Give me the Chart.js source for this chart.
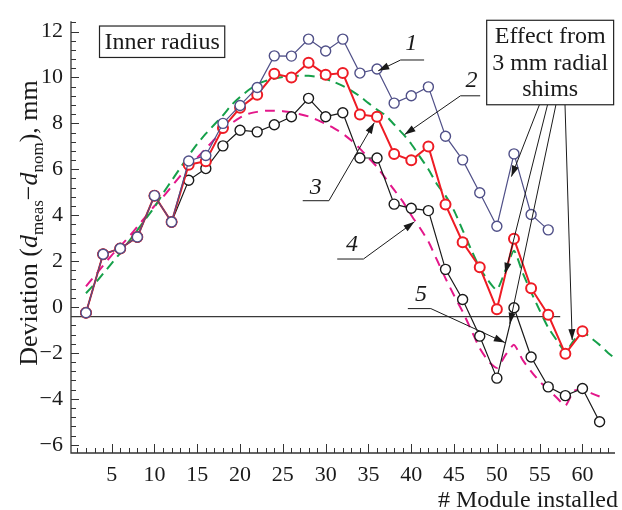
<!DOCTYPE html>
<html>
<head>
<meta charset="utf-8">
<script src="https://cdn.jsdelivr.net/npm/chart.js@4.4.1/dist/chart.umd.min.js"></script>
<style>
  html, body { margin: 0; padding: 0; background: #fff; }
  #wrap { width: 622px; height: 510px; }
</style>
</head>
<body>
<div id="wrap"><canvas id="deviationChart" width="622" height="510"></canvas></div>
<script>
// measured deviations, one point every second module
const modules = [2, 4, 6, 8, 10, 12, 14, 16, 18, 20, 22, 24, 26, 28, 30, 32,
                 34, 36, 38, 40, 42, 44, 46, 48, 50, 52, 54, 56, 58, 60, 62];
const curve1 = [-0.25, 2.3, 2.55, 3.05, 4.85, 3.7, 6.36, 6.6, 8.0, 8.78, 9.56, 10.94, 10.93, 11.67, 11.15, 11.67,
                10.19, 10.37, 8.88, 9.2, 9.59, 7.44, 6.41, 4.98, 3.52, 6.67, 4.03, 3.36];
const curve3 = [-0.25, 2.3, 2.55, 3.05, 4.85, 3.7, 6.2, 6.35, 7.8, 8.68, 9.25, 10.16, 10.0, 10.64, 10.12, 10.19,
                8.39, 8.29, 6.67, 6.39, 6.99, 4.46, 2.82, 1.73, -0.1, 2.97, 0.82, -0.34, -2.04, -1.06];
const curve5 = [-0.25, 2.3, 2.55, 3.05, 4.85, 3.7, 5.52, 6.03, 7.02, 7.7, 7.63, 7.94, 8.29, 9.09, 8.29, 8.46,
                6.49, 6.49, 4.48, 4.3, 4.2, 1.64, 0.33, -1.27, -3.1, -0.03, -2.18, -3.48, -3.86, -3.55, -5.0];

// model curves, one value per module
const modelModules = [];
for (let m = 2; m <= 64; m++) modelModules.push(m);
const curve2 = [0.6, 1.0, 1.45, 1.9, 2.35, 2.85, 3.35, 3.85, 4.35, 4.95, 5.5, 6.05, 6.6, 7.1, 7.55, 7.95,
                8.35, 8.8, 9.15, 9.45, 9.7, 9.85, 9.95, 10.02, 10.06, 10.08, 10.07, 10.02, 9.93, 9.8, 9.63, 9.43,
                9.18, 8.88, 8.6, 8.35, 7.95, 7.55, 7.1, 6.55, 6.0, 5.35, 4.85, 4.2, 3.35, 2.5, 1.7, 1.15,
                0.75, 1.6, 2.45, 1.5, 0.65, -0.15, -0.9, -1.45, -1.95, -1.45, -1.1, -1.35, -1.65, -2.0, -2.3];
const curve4 = [0.9, 1.35, 1.8, 2.25, 2.65, 3.05, 3.5, 3.95, 4.4, 4.8, 5.25, 5.7, 6.1, 6.5, 6.9, 7.3,
                7.65, 8.0, 8.25, 8.42, 8.5, 8.55, 8.55, 8.53, 8.48, 8.4, 8.3, 8.15, 7.98, 7.78, 7.55, 7.25,
                6.9, 6.5, 6.1, 5.6, 5.1, 4.6, 4.0, 3.45, 2.85, 2.05, 1.25, 0.5, -0.2, -1.0, -1.8, -2.35,
                -2.65, -2.1, -1.65, -2.3, -2.8, -3.25, -3.6, -3.95, -4.3, -3.65, -3.6, -3.75, -3.9];

// reference level
const refModules = [0.25, 57.4];
const refLevel = -0.42;

const xTickLabels = [5, 10, 15, 20, 25, 30, 35, 40, 45, 50, 55, 60];
const yTickLabels = [-6, -4, -2, 0, 2, 4, 6, 8, 10, 12];

const SERIF = '"Liberation Serif", "Times New Roman", serif';
const INK = '#1a1a1a';

const pairs = (xs, ys) => ys.map((y, i) => ({ x: xs[i], y: y }));

// callouts, positioned in data units
const curveCallouts = [
    { text: '1', at: [40.0, 11.45], path: [[41.5, 10.76], [38.76, 10.76], [36.14, 10.29]] },
    { text: '2', at: [47.05, 9.84], path: [[48.05, 9.2], [45.75, 9.2], [39.22, 7.51]] },
    { text: '3', at: [28.85, 5.19], path: [[27.32, 4.63], [30.38, 4.63], [35.68, 8.03]] },
    { text: '4', at: [33.08, 2.72], path: [[31.35, 2.09], [34.41, 2.09], [40.37, 3.71]] },
    { text: '5', at: [41.14, 0.54], path: [[39.6, -0.07], [42.29, -0.07], [50.93, -1.55]] }
];
const shimArrows = [
    [[54.97, 8.81], [51.70, 5.68]],
    [[55.92, 8.81], [50.97, 1.45]],
    [[56.9, 8.81], [51.51, -0.73]],
    [[57.96, 8.81], [58.8, -1.44]]
];
const innerBox = { from: [3.58, 12.24], to: [18.21, 10.87], lines: ['Inner radius'] };
const shimBox = { from: [48.81, 12.49], to: [63.64, 8.81], lines: ['Effect from', '3 mm radial', 'shims'] };

function arrowHead(ctx, x0, y0, x1, y1) {
    const a = Math.atan2(y1 - y0, x1 - x0);
    const len = 11, half = 3.5;
    ctx.beginPath();
    ctx.moveTo(x1, y1);
    ctx.lineTo(x1 - len * Math.cos(a) + half * Math.sin(a), y1 - len * Math.sin(a) - half * Math.cos(a));
    ctx.lineTo(x1 - len * Math.cos(a) - half * Math.sin(a), y1 - len * Math.sin(a) + half * Math.cos(a));
    ctx.closePath();
    ctx.fill();
}

const framePlugin = {
    id: 'frame',
    beforeDatasetsDraw(chart) {
        const { ctx, chartArea: a, scales: { x, y } } = chart;
        ctx.save();
        ctx.strokeStyle = '#333';
        ctx.lineWidth = 1.3;
        ctx.beginPath();
        ctx.moveTo(a.left, a.top);
        ctx.lineTo(a.left, a.bottom);
        ctx.lineTo(a.right, a.bottom);
        ctx.stroke();
        ctx.lineWidth = 1;
        ctx.beginPath();
        // y ticks every 0.4, long ones at labelled values
        for (let k = -15; k <= 31; k++) {
            const v = k * 0.4;
            if (v < y.min || v > y.max) continue;
            const py = Math.round(y.getPixelForValue(v)) + 0.5;
            const len = k % 5 === 0 ? 8 : 5;
            ctx.moveTo(a.left, py);
            ctx.lineTo(a.left + len, py);
        }
        // x ticks every module, long ones every fifth
        for (let m = 1; m <= Math.floor(x.max); m++) {
            const px = Math.round(x.getPixelForValue(m)) + 0.5;
            const len = m % 5 === 0 ? 9 : 5;
            ctx.moveTo(px, a.bottom);
            ctx.lineTo(px, a.bottom - len);
        }
        ctx.stroke();
        ctx.restore();
    },
    afterDatasetsDraw(chart) {
        const { ctx, scales: { x, y } } = chart;
        const P = (p) => [x.getPixelForValue(p[0]), y.getPixelForValue(p[1])];
        ctx.save();
        ctx.strokeStyle = INK;
        ctx.fillStyle = INK;
        ctx.lineWidth = 1;

        curveCallouts.forEach(c => {
            const pts = c.path.map(P);
            ctx.beginPath();
            ctx.moveTo(pts[0][0], pts[0][1]);
            pts.slice(1).forEach(p => ctx.lineTo(p[0], p[1]));
            ctx.stroke();
            const n = pts.length;
            arrowHead(ctx, pts[n - 2][0], pts[n - 2][1], pts[n - 1][0], pts[n - 1][1]);
            const t = P(c.at);
            ctx.font = 'italic 24px ' + SERIF;
            ctx.textAlign = 'center';
            ctx.textBaseline = 'middle';
            ctx.fillText(c.text, t[0], t[1]);
        });

        shimArrows.forEach(s => {
            const p0 = P(s[0]), p1 = P(s[1]);
            ctx.beginPath();
            ctx.moveTo(p0[0], p0[1]);
            ctx.lineTo(p1[0], p1[1]);
            ctx.stroke();
            arrowHead(ctx, p0[0], p0[1], p1[0], p1[1]);
        });

        [innerBox, shimBox].forEach(b => {
            const p0 = P(b.from), p1 = P(b.to);
            ctx.fillStyle = '#fff';
            ctx.fillRect(p0[0], p0[1], p1[0] - p0[0], p1[1] - p0[1]);
            ctx.strokeStyle = '#222';
            ctx.lineWidth = 1.2;
            ctx.strokeRect(p0[0], p0[1], p1[0] - p0[0], p1[1] - p0[1]);
            ctx.fillStyle = INK;
            ctx.font = '24px ' + SERIF;
            ctx.textAlign = 'center';
            ctx.textBaseline = 'middle';
            const cx = (p0[0] + p1[0]) / 2, cy = (p0[1] + p1[1]) / 2;
            const lh = 26.5;
            b.lines.forEach((ln, i) => {
                ctx.fillText(ln, cx, cy + (i - (b.lines.length - 1) / 2) * lh + 1);
            });
        });
        ctx.restore();
    },
    afterDraw(chart) {
        const { ctx, chartArea: a } = chart;
        ctx.save();
        ctx.fillStyle = INK;
        // x title
        ctx.font = '24px ' + SERIF;
        ctx.textAlign = 'right';
        ctx.textBaseline = 'alphabetic';
        ctx.fillText('# Module installed', 618, 507);

        // y title with subscripts
        const big = '26px ' + SERIF, ital = 'italic 26px ' + SERIF, sub = '17px ' + SERIF;
        const parts = [
            { t: 'Deviation (', f: big, dy: 0 },
            { t: 'd', f: ital, dy: 0 },
            { t: 'meas', f: sub, dy: 6 },
            { t: '\u2212', f: big, dy: 0 },
            { t: 'd', f: ital, dy: 0 },
            { t: 'nom', f: sub, dy: 6 },
            { t: '), mm', f: big, dy: 0 }
        ];
        ctx.translate(a.left - 34, 223);
        ctx.rotate(-Math.PI / 2);
        let w = 0;
        parts.forEach(p => { ctx.font = p.f; p.w = ctx.measureText(p.t).width; w += p.w; });
        let cx = -w / 2;
        ctx.textAlign = 'left';
        parts.forEach(p => { ctx.font = p.f; ctx.fillText(p.t, cx, p.dy); cx += p.w; });
        ctx.restore();
    }
};

const ctx = document.getElementById('deviationChart');

new Chart(ctx.getContext('2d'), {
    type: 'line',
    data: {
        datasets: [
            {
                label: '1',
                data: pairs(modules, curve1),
                borderColor: '#505088',
                borderWidth: 1.2,
                pointRadius: 5,
                pointBorderWidth: 1.4,
                pointBorderColor: '#505088',
                pointBackgroundColor: '#fff',
                tension: 0,
                order: 1
            },
            {
                label: '3',
                data: pairs(modules, curve3),
                borderColor: '#ee1c25',
                borderWidth: 2,
                pointRadius: 5,
                pointBorderWidth: 2,
                pointBorderColor: '#ee1c25',
                pointBackgroundColor: '#fff',
                tension: 0,
                order: 2
            },
            {
                label: '5',
                data: pairs(modules, curve5),
                borderColor: '#1a1a1a',
                borderWidth: 1.2,
                pointRadius: 5,
                pointBorderWidth: 1.4,
                pointBorderColor: '#1a1a1a',
                pointBackgroundColor: '#fff',
                tension: 0,
                order: 3
            },
            {
                label: '2',
                data: pairs(modelModules, curve2),
                borderColor: '#16a04a',
                borderWidth: 2,
                borderDash: [10, 6],
                pointRadius: 0,
                tension: 0.2,
                order: 4
            },
            {
                label: '4',
                data: pairs(modelModules, curve4),
                borderColor: '#e3178a',
                borderWidth: 2,
                borderDash: [10, 7],
                pointRadius: 0,
                tension: 0.2,
                order: 5
            },
            {
                label: 'ref',
                data: refModules.map(m => ({ x: m, y: refLevel })),
                borderColor: '#3a3a3a',
                borderWidth: 1.3,
                pointRadius: 0,
                order: 6
            }
        ]
    },
    options: {
        responsive: false,
        devicePixelRatio: 1,
        animation: false,
        layout: { padding: { top: 8, right: 0, bottom: 0, left: 0 } },
        plugins: {
            legend: { display: false },
            tooltip: { enabled: false }
        },
        scales: {
            x: {
                type: 'linear',
                min: 0.25,
                max: 63.8,
                afterBuildTicks: (axis) => { axis.ticks = xTickLabels.map(v => ({ value: v })); },
                afterFit: (axis) => { axis.height = 57; },
                grid: { display: false, drawTicks: false },
                border: { display: false },
                ticks: {
                    autoSkip: false,
                    maxRotation: 0,
                    padding: 9,
                    color: INK,
                    font: { family: SERIF, size: 22 }
                }
            },
            y: {
                type: 'linear',
                min: -6.36,
                max: 12.45,
                afterBuildTicks: (axis) => { axis.ticks = yTickLabels.map(v => ({ value: v })); },
                afterFit: (axis) => { axis.width = 71; },
                grid: { display: false, drawTicks: false },
                border: { display: false },
                ticks: {
                    padding: 8,
                    color: INK,
                    font: { family: SERIF, size: 22 },
                    callback: (v) => v < 0 ? '\u2212' + Math.abs(v) : String(v)
                }
            }
        }
    },
    plugins: [framePlugin]
});
</script>
</body>
</html>
